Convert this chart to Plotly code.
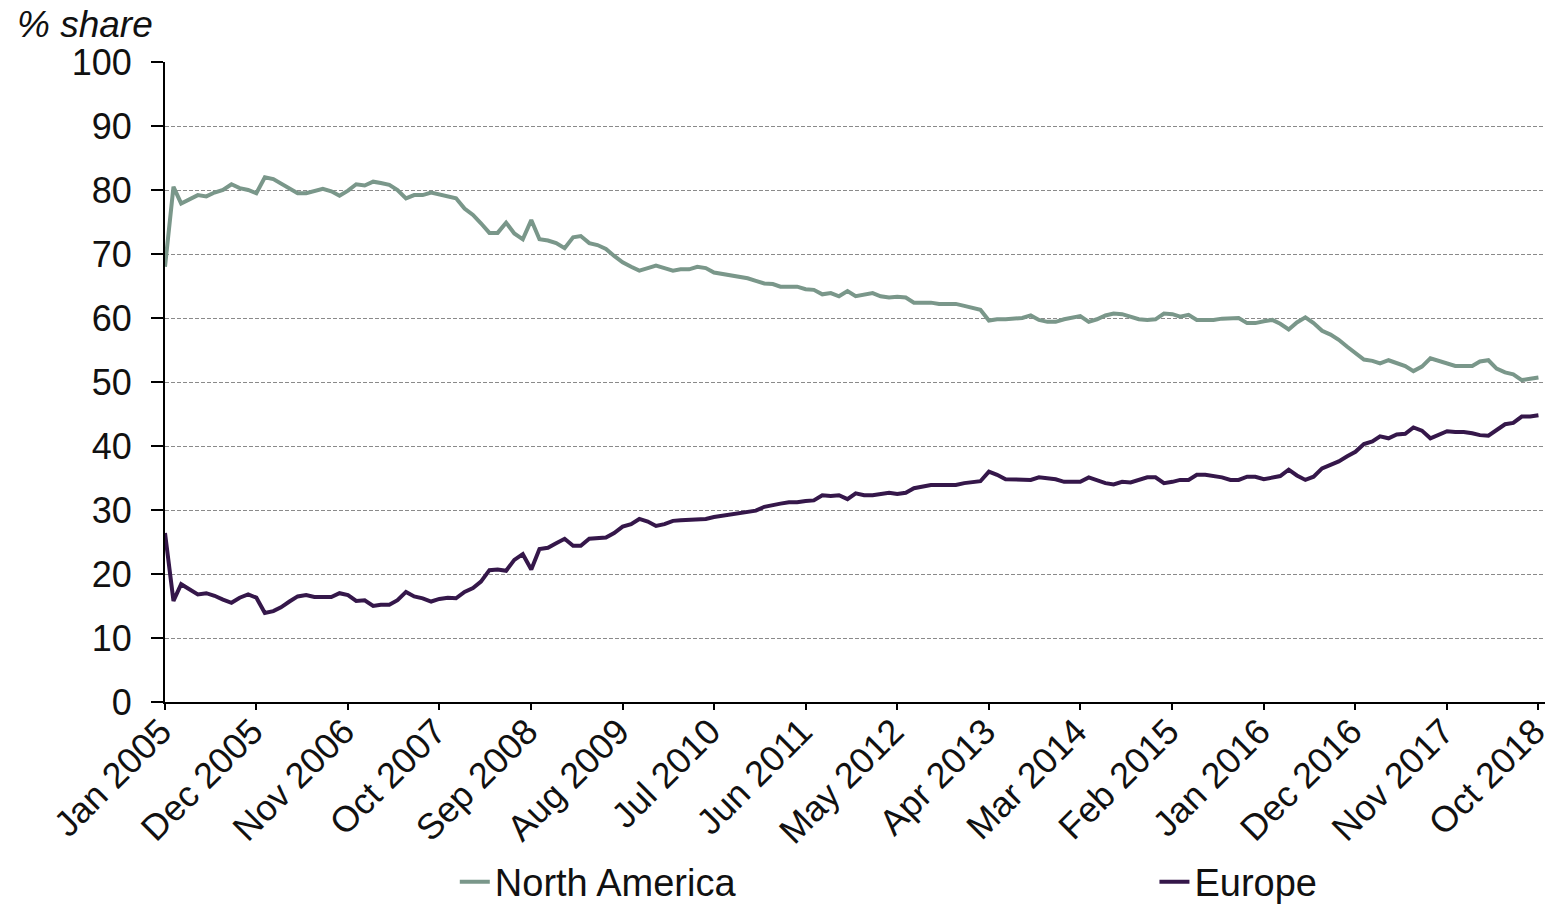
import pandas as pd
import plotly.graph_objects as go

# Monthly share (%) by region, Jan 2005 onwards
north_america = [
    68.0, 80.5, 77.9, 78.5, 79.2, 79.0, 79.6, 80.0, 80.9, 80.3, 80.0, 79.5,
    82.0, 81.7, 81.0, 80.3, 79.5, 79.5, 79.8, 80.2, 79.8, 79.1, 79.9, 80.9,
    80.7, 81.3, 81.1, 80.8, 80.0, 78.7, 79.2, 79.2, 79.6, 79.3, 79.0, 78.7,
    77.1, 76.1, 74.8, 73.3, 73.3, 74.9, 73.2, 72.3, 75.3, 72.3, 72.1, 71.7,
    70.9, 72.6, 72.8, 71.7, 71.4, 70.8, 69.7, 68.7, 68.0, 67.4, 67.8, 68.2,
    67.8, 67.4, 67.6, 67.6, 68.0, 67.8, 67.1, 66.9, 66.7, 66.5, 66.2, 65.8,
    65.4, 65.3, 64.9, 64.9, 64.9, 64.5, 64.4, 63.7, 63.9, 63.4, 64.2, 63.4,
    63.6, 63.9, 63.4, 63.2, 63.3, 63.2, 62.4, 62.4, 62.4, 62.2, 62.2, 62.2,
    61.9, 61.5, 61.3, 59.6, 59.8, 59.8, 59.9, 60.0, 60.4, 59.7, 59.4, 59.4,
    59.8, 60.0, 60.3, 59.4, 59.8, 60.4, 60.7, 60.6, 60.2, 59.8, 59.7, 59.8,
    60.7, 60.6, 60.2, 60.5, 59.7, 59.7, 59.7, 59.9, 60.0, 60.0, 59.2, 59.2,
    59.5, 59.7, 59.1, 58.2, 59.3, 60.1, 59.2, 58.0, 57.4, 56.6, 55.5, 54.5,
    53.5, 53.3, 52.9, 53.4, 52.9, 52.5, 51.7, 52.4, 53.7, 53.3, 52.8, 52.5,
    52.5, 52.5, 53.2, 53.4, 52.1, 51.5, 51.2, 50.3, 50.5, 50.7,
]

europe = [
    26.4, 15.8, 18.4, 17.5, 16.8, 17.0, 16.6, 16.0, 15.5, 16.3, 16.8, 16.3,
    13.9, 14.2, 14.8, 15.7, 16.5, 16.7, 16.4, 16.4, 16.4, 17.0, 16.7, 15.8,
    15.9, 15.0, 15.2, 15.2, 15.9, 17.2, 16.5, 16.2, 15.7, 16.1, 16.3, 16.2,
    17.2, 17.8, 18.8, 20.6, 20.7, 20.5, 22.2, 23.1, 20.7, 23.9, 24.1, 24.8,
    25.5, 24.4, 24.4, 25.5, 25.6, 25.7, 26.4, 27.4, 27.8, 28.6, 28.2, 27.5,
    27.8, 28.3, 28.4, 28.5, 28.6, 28.6, 28.9, 29.1, 29.2, 29.5, 29.7, 29.9,
    30.5, 30.8, 31.0, 31.2, 31.2, 31.4, 31.5, 32.3, 32.2, 32.3, 31.7, 32.6,
    32.3, 32.3, 32.5, 32.7, 32.5, 32.7, 33.4, 33.6, 33.9, 33.9, 33.9, 33.9,
    34.2, 34.3, 34.5, 36.0, 35.5, 34.8, 34.8, 34.7, 34.7, 35.1, 35.0, 34.8,
    34.4, 34.4, 34.4, 35.1, 34.7, 34.2, 34.0, 34.4, 34.3, 34.7, 35.1, 35.1,
    34.2, 34.4, 34.7, 34.7, 35.5, 35.5, 35.3, 35.1, 34.7, 34.7, 35.2, 35.2,
    34.8, 35.0, 35.3, 36.3, 35.4, 34.7, 35.2, 36.5, 37.1, 37.6, 38.4, 39.1,
    40.3, 40.7, 41.5, 41.2, 41.8, 41.9, 42.9, 42.4, 41.2, 41.8, 42.3, 42.2,
    42.2, 42.0, 41.7, 41.6, 42.5, 43.4, 43.6, 44.6, 44.6, 44.8,
]

months = pd.date_range("2005-01-01", periods=len(north_america), freq="MS")

# Axis labels every 11 months, starting with the first month
tick_dates = months[::11]
tick_labels = [d.strftime("%b %Y") for d in tick_dates]

FONT = "Liberation Sans, Arial, sans-serif"

fig = go.Figure()
fig.add_trace(go.Scatter(
    x=months, y=north_america, name="North America", mode="lines",
    line=dict(color="#7a978a", width=4), legend="legend",
))
fig.add_trace(go.Scatter(
    x=months, y=europe, name="Europe", mode="lines",
    line=dict(color="#35174a", width=4), legend="legend2",
))

legend_style = dict(
    orientation="h", yref="container", y=0.034, xanchor="left",
    yanchor="middle", font=dict(size=38, color="#111111"), itemwidth=30,
    bgcolor="rgba(0,0,0,0)",
)

fig.update_layout(
    width=1552, height=913,
    margin=dict(l=165, r=7, t=62, b=211, autoexpand=False),
    paper_bgcolor="white", plot_bgcolor="white",
    font=dict(family=FONT, size=36, color="#111111"),
    showlegend=True,
    legend=dict(x=0.210, **legend_style),
    legend2=dict(x=0.717, **legend_style),
    annotations=[dict(
        text="<i>% share</i>", xref="paper", yref="paper", x=-0.109, y=1.094,
        xanchor="left", yanchor="top", showarrow=False, font=dict(size=37),
    )],
)

fig.update_xaxes(
    type="date", automargin=False,
    range=["2005-01-01", "2018-10-25"],
    tickvals=tick_dates, ticktext=tick_labels,
    tickangle=-45, ticklabeloverflow="allow",
    ticklabelstandoff=-14, ticklabelshift=-4,
    showline=True, linecolor="black", linewidth=2,
    ticks="outside", ticklen=6, tickwidth=2, tickcolor="black",
    showgrid=False, zeroline=False,
)
fig.update_yaxes(
    automargin=False,
    range=[0, 100], tick0=0, dtick=10,
    showline=True, linecolor="black", linewidth=2,
    ticks="outside", ticklen=12, tickwidth=2, tickcolor="black",
    ticklabelstandoff=12,
    showgrid=True, gridcolor="#8a8a8a", gridwidth=1, griddash="4px,2px",
    zeroline=False,
)

fig.write_html("out.html")
